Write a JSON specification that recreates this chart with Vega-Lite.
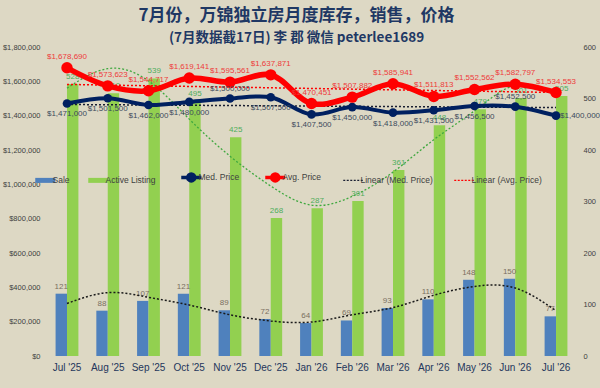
{
  "$schema": "https://vega.github.io/schema/vega-lite/v6.json",
  "width": 531,
  "height": 309,
  "autosize": {"type": "none"},
  "padding": {"left": 46, "top": 47, "right": 23, "bottom": 32},
  "background": "#ddd8c4",
  "title": {
    "text": "7月份，万锦独立房月度库存，销售，价格",
    "subtitle": "(7月数据截17日) 李 郡 微信 peterlee1689",
    "font": "Noto Sans CJK SC",
    "fontSize": 17,
    "fontWeight": "bold",
    "color": "#1f3864",
    "subtitleFont": "Noto Sans CJK SC",
    "subtitleFontSize": 13.5,
    "subtitleFontWeight": "bold",
    "subtitleColor": "#1f3864",
    "subtitlePadding": 6,
    "anchor": "middle",
    "dx": -15,
    "offset": -2
  },
  "datasets": {
    "main": [
      {"month": "Jul '25", "Sale": 121, "Active Listing": 528, "med": 1471000, "avg": 1678690, "saleTrend": 102, "listingTrend": 520},
      {"month": "Aug '25", "Sale": 88, "Active Listing": 510, "med": 1501500, "avg": 1573623, "saleTrend": 123, "listingTrend": 558},
      {"month": "Sep '25", "Sale": 107, "Active Listing": 539, "med": 1462000, "avg": 1544717, "saleTrend": 114, "listingTrend": 534},
      {"month": "Oct '25", "Sale": 121, "Active Listing": 495, "med": 1480000, "avg": 1619141, "saleTrend": 99, "listingTrend": 460},
      {"month": "Nov '25", "Sale": 89, "Active Listing": 425, "med": 1500000, "avg": 1595561, "saleTrend": 80, "listingTrend": 388},
      {"month": "Dec '25", "Sale": 72, "Active Listing": 268, "med": 1507500, "avg": 1637871, "saleTrend": 68, "listingTrend": 330},
      {"month": "Jan '26", "Sale": 64, "Active Listing": 287, "med": 1407500, "avg": 1470451, "saleTrend": 66, "listingTrend": 293},
      {"month": "Feb '26", "Sale": 69, "Active Listing": 301, "med": 1450000, "avg": 1507882, "saleTrend": 80, "listingTrend": 310},
      {"month": "Mar '26", "Sale": 93, "Active Listing": 361, "med": 1418000, "avg": 1585941, "saleTrend": 94, "listingTrend": 357},
      {"month": "Apr '26", "Sale": 110, "Active Listing": 448, "med": 1431500, "avg": 1511813, "saleTrend": 118, "listingTrend": 420},
      {"month": "May '26", "Sale": 148, "Active Listing": 479, "med": 1456500, "avg": 1552562, "saleTrend": 135, "listingTrend": 476},
      {"month": "Jun '26", "Sale": 150, "Active Listing": 501, "med": 1452500, "avg": 1582797, "saleTrend": 132, "listingTrend": 526},
      {"month": "Jul '26", "Sale": 77, "Active Listing": 505, "med": 1400000, "avg": 1534553, "saleTrend": 88, "listingTrend": 512}
    ],
    "lin": [
      {"month": "Jul '25", "medTrend": 1465000, "avgTrend": 1582000},
      {"month": "Jul '26", "medTrend": 1447000, "avgTrend": 1535000}
    ]
  },
  "data": {"name": "main"},
  "encoding": {
    "x": {
      "field": "month",
      "type": "ordinal",
      "title": null,
      "scale": {
        "domain": ["Jul '25", "Aug '25", "Sep '25", "Oct '25", "Nov '25", "Dec '25", "Jan '26", "Feb '26", "Mar '26", "Apr '26", "May '26", "Jun '26", "Jul '26"],
        "paddingInner": 0.44,
        "paddingOuter": 0.235
      },
      "axis": {"labelAngle": 0, "labelFontSize": 10, "labelColor": "#24365c", "labelPadding": 6}
    }
  },
  "layer": [
    {
      "layer": [
        {
          "transform": [{"fold": ["Sale", "Active Listing"], "as": ["series", "count"]}],
          "mark": {"type": "bar"},
          "encoding": {
            "xOffset": {"field": "series", "type": "nominal", "scale": {"domain": ["Sale", "Active Listing"]}},
            "y": {
              "field": "count", "type": "quantitative", "title": null,
              "scale": {"domain": [0, 600]},
              "axis": {"orient": "right", "values": [0, 100, 200, 300, 400, 500, 600], "labelPadding": 6, "labelOverlap": false}
            },
            "color": {
              "field": "series", "type": "nominal",
              "scale": {
                "domain": ["Sale", "Active Listing", "Med. Price", "Avg. Price", "Linear (Med. Price)", "Linear (Avg. Price)"],
                "range": ["#4f81bd", "#92d050", "#002060", "#ff0000", "#1a1f33", "#ff0000"]
              },
              "legend": {
                "orient": "none",
                "legendX": -5,
                "legendY": 126,
                "direction": "horizontal",
                "columns": 6,
                "title": null,
                "labelFontSize": 8.5,
                "labelColor": "#404040",
                "labelFont": "Liberation Sans",
                "symbolSize": 400,
                "columnPadding": 18,
                "labelOffset": 3,
                "encode": {
                  "symbols": {
                    "update": {
                      "shape": {"signal": "datum.value === 'Sale' || datum.value === 'Active Listing' ? 'M-1,-0.25H1V0.25H-1Z' : (datum.value === 'Med. Price' || datum.value === 'Avg. Price' ? 'M-1,0H1M0.35,0A0.35,0.35,0,1,1,-0.35,0A0.35,0.35,0,1,1,0.35,0Z' : 'M-1,0H1')"},
                      "fill": {"scale": "color", "field": "value"},
                      "stroke": {"scale": "color", "field": "value"},
                      "strokeWidth": {"signal": "datum.value === 'Sale' || datum.value === 'Active Listing' ? 0 : (datum.value === 'Med. Price' || datum.value === 'Avg. Price' ? 3.5 : 1.3)"},
                      "strokeDash": {"signal": "indexof(datum.value, 'Linear') === 0 ? [2, 1.5] : []"},
                      "opacity": {"value": 1},
                      "fillOpacity": {"value": 1}
                    }
                  }
                }
              }
            }
          }
        },
        {
          "transform": [{"fold": ["Sale", "Active Listing"], "as": ["series", "count"]}],
          "mark": {"type": "text", "baseline": "bottom", "dy": -3, "fontSize": 8, "font": "Liberation Sans"},
          "encoding": {
            "xOffset": {"field": "series", "type": "nominal", "scale": {"domain": ["Sale", "Active Listing"]}},
            "y": {"field": "count", "type": "quantitative", "title": null, "axis": {"labelOverlap": false}},
            "text": {"field": "count", "type": "quantitative"},
            "color": {"condition": {"test": "datum.series === 'Sale'", "value": "#7a6f60"}, "value": "#4ead5b"}
          }
        },
        {
          "mark": {"type": "line", "interpolate": "natural", "strokeDash": [2, 2], "strokeWidth": 1.5, "color": "#1a1a1a"},
          "encoding": {"y": {"field": "saleTrend", "type": "quantitative", "title": null, "axis": {"labelOverlap": false}}}
        },
        {
          "mark": {"type": "line", "interpolate": "natural", "strokeDash": [2, 2], "strokeWidth": 1.3, "color": "#3fa83f"},
          "encoding": {"y": {"field": "listingTrend", "type": "quantitative", "title": null, "axis": {"labelOverlap": false}}}
        }
      ]
    },
    {
      "layer": [
        {
          "data": {"name": "lin"},
          "mark": {"type": "line", "strokeDash": [2, 2], "strokeWidth": 1.5},
          "encoding": {
            "y": {
              "field": "medTrend", "type": "quantitative", "title": null,
              "scale": {"domain": [0, 1800000]},
              "axis": {"orient": "left", "tickCount": 9, "format": "$,.0f", "labelPadding": 6, "labelOverlap": false, "labelSeparation": -30}
            },
            "color": {"datum": "Linear (Med. Price)", "type": "nominal"}
          }
        },
        {
          "data": {"name": "lin"},
          "mark": {"type": "line", "strokeDash": [2, 2], "strokeWidth": 1.5},
          "encoding": {
            "y": {"field": "avgTrend", "type": "quantitative", "title": null, "axis": {"labelOverlap": false}},
            "color": {"datum": "Linear (Avg. Price)", "type": "nominal"}
          }
        },
        {
          "mark": {"type": "line", "interpolate": "catmull-rom", "strokeWidth": 4, "point": {"filled": true, "size": 75}},
          "encoding": {
            "y": {"field": "med", "type": "quantitative", "title": null, "axis": {"labelOverlap": false}},
            "color": {"datum": "Med. Price", "type": "nominal"}
          }
        },
        {
          "mark": {"type": "line", "interpolate": "catmull-rom", "strokeWidth": 5.5, "point": {"filled": true, "size": 130}},
          "encoding": {
            "y": {"field": "avg", "type": "quantitative", "title": null, "axis": {"labelOverlap": false}},
            "color": {"datum": "Avg. Price", "type": "nominal"}
          }
        },
        {
          "transform": [{"filter": {"not": {"field": "month", "oneOf": ["Nov '25", "Jun '26", "Jul '26"]}}}],
          "mark": {"type": "text", "dy": 11, "fontSize": 8, "font": "Liberation Sans", "color": "#3c4a5c"},
          "encoding": {
            "y": {"field": "med", "type": "quantitative", "title": null, "axis": {"labelOverlap": false}},
            "text": {"field": "med", "type": "quantitative", "format": "$,.0f"}
          }
        },
        {
          "transform": [{"filter": {"field": "month", "oneOf": ["Nov '25", "Jun '26"]}}],
          "mark": {"type": "text", "dy": -10, "fontSize": 8, "font": "Liberation Sans", "color": "#3c4a5c"},
          "encoding": {
            "y": {"field": "med", "type": "quantitative", "title": null, "axis": {"labelOverlap": false}},
            "text": {"field": "med", "type": "quantitative", "format": "$,.0f"}
          }
        },
        {
          "transform": [{"filter": {"field": "month", "oneOf": ["Jul '26"]}}],
          "mark": {"type": "text", "align": "left", "dx": 4, "fontSize": 8, "font": "Liberation Sans", "color": "#3c4a5c"},
          "encoding": {
            "y": {"field": "med", "type": "quantitative", "title": null, "axis": {"labelOverlap": false}},
            "text": {"field": "med", "type": "quantitative", "format": "$,.0f"}
          }
        },
        {
          "mark": {"type": "text", "dy": -11, "fontSize": 8, "font": "Liberation Sans", "color": "#ee3b3b"},
          "encoding": {
            "y": {"field": "avg", "type": "quantitative", "title": null, "axis": {"labelOverlap": false}},
            "text": {"field": "avg", "type": "quantitative", "format": "$,.0f"}
          }
        }
      ]
    }
  ],
  "resolve": {"scale": {"y": "independent"}},
  "config": {
    "font": "Liberation Sans",
    "view": {"stroke": null},
    "axis": {"grid": false, "ticks": false, "domain": false, "labelOverlap": false, "labelFont": "Liberation Sans", "labelColor": "#404040", "labelFontSize": 7.5}
  }
}
